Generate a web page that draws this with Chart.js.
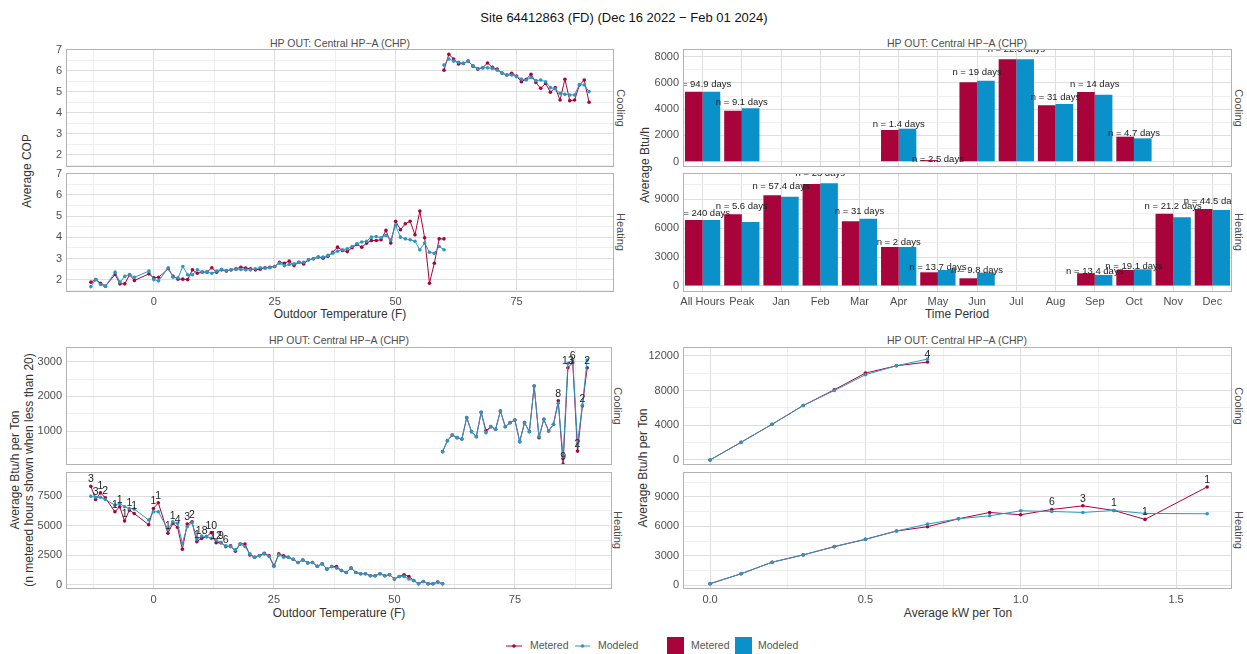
<!DOCTYPE html>
<html>
<head>
<meta charset="utf-8">
<title>Site 64412863</title>
<script src="https://cdn.jsdelivr.net/npm/chart.js@4.4.0/dist/chart.umd.min.js"></script>
<style>
  body { margin: 0; background: #fff; font-family: "Liberation Sans", Arial, sans-serif; }
  #page { position: relative; width: 1247px; height: 654px; overflow: hidden; background: #fff; }
  #page canvas { position: absolute; }
  .t { position: absolute; white-space: nowrap; transform: translate(-50%, -50%); line-height: 1; }
  .title { font-size: 13px; color: #111; }
  .ptitle { font-size: 10.5px; color: #4d4d4d; }
  .strip { font-size: 11px; color: #4d4d4d; transform: translate(-50%, -50%) rotate(90deg); }
  .axt { font-size: 12px; color: #333; }
  .axt.v { transform: translate(-50%, -50%) rotate(-90deg); }
  .leg { position: absolute; font-size: 10.5px; color: #555; top: 639px; white-space: nowrap; }
</style>
</head>
<body>
<div id="page">
  <div class="t title" style="left:624px; top:17px">Site 64412863 (FD) (Dec 16 2022 − Feb 01 2024)</div>

  <div class="t ptitle" style="left:340px; top:43px">HP OUT: Central HP−A (CHP)</div>
  <div class="t ptitle" style="left:957px; top:43px">HP OUT: Central HP−A (CHP)</div>
  <div class="t ptitle" style="left:339px; top:340px">HP OUT: Central HP−A (CHP)</div>
  <div class="t ptitle" style="left:957px; top:340px">HP OUT: Central HP−A (CHP)</div>

  <div class="t strip" style="left:620px; top:108px">Cooling</div>
  <div class="t strip" style="left:620px; top:232px">Heating</div>
  <div class="t strip" style="left:1238px; top:108px">Cooling</div>
  <div class="t strip" style="left:1238px; top:232px">Heating</div>
  <div class="t strip" style="left:617px; top:406px">Cooling</div>
  <div class="t strip" style="left:617px; top:530px">Heating</div>
  <div class="t strip" style="left:1238px; top:406px">Cooling</div>
  <div class="t strip" style="left:1238px; top:530px">Heating</div>

  <div class="t axt v" style="left:27px; top:171px">Average COP</div>
  <div class="t axt" style="left:340px; top:314px">Outdoor Temperature (F)</div>
  <div class="t axt v" style="left:645px; top:165px">Average Btu/h</div>
  <div class="t axt" style="left:957px; top:314px">Time Period</div>
  <div class="t axt v" style="left:15px; top:470px">Average Btu/h per Ton</div>
  <div class="t axt v" style="left:29px; top:470px">(n metered hours shown when less than 20)</div>
  <div class="t axt" style="left:339px; top:613px">Outdoor Temperature (F)</div>
  <div class="t axt v" style="left:643px; top:468px">Average Btu/h per Ton</div>
  <div class="t axt" style="left:958px; top:613px">Average kW per Ton</div>

  <svg style="position:absolute; left:505px; top:640px" width="20" height="12">
    <line x1="1" y1="6" x2="17" y2="6" stroke="#a9033c" stroke-width="1"/><circle cx="9" cy="6" r="1.8" fill="#a9033c"/>
  </svg>
  <div class="leg" style="left:530px">Metered</div>
  <svg style="position:absolute; left:574px; top:640px" width="20" height="12">
    <line x1="1" y1="6" x2="16" y2="6" stroke="#2b97c2" stroke-width="1"/><circle cx="8.5" cy="6" r="1.8" fill="#2b97c2"/>
  </svg>
  <div class="leg" style="left:598px">Modeled</div>
  <div style="position:absolute; left:667px; top:637px; width:17px; height:17px; background:#a9033c"></div>
  <div class="leg" style="left:691px">Metered</div>
  <div style="position:absolute; left:735px; top:637px; width:17px; height:17px; background:#0b91c9"></div>
  <div class="leg" style="left:758px">Modeled</div>
</div>

<script>
// ---- data ----
const tempCool = [60,61,62,63,64,65,66,67,68,69,70,71,72,73,74,75,76,77,78,79,80,81,82,83,84,85,86,87,88,89,90];
const copCoolMetered = [6.03,6.78,6.56,6.32,6.35,6.46,6.22,6.08,6.14,6.37,6.16,6.08,5.89,5.80,5.88,5.75,5.48,5.60,5.83,5.44,5.17,5.40,4.98,5.20,4.61,5.60,4.58,4.61,5.32,5.56,4.50];
const copCoolModeled = [6.27,6.56,6.46,6.40,6.35,6.46,6.24,6.11,6.14,6.14,6.11,6.03,5.88,5.80,5.80,5.72,5.61,5.56,5.68,5.53,5.56,5.48,5.20,5.14,4.93,4.88,4.85,4.85,5.35,5.32,5.01];

const tempHeat = [-13,-12,-11,-10,-8,-7,-6,-5,-4,-1,0,1,3,4,5,6,7,8,9,10,11,12,13,14,15,16,17,18,19,20,21,22,23,24,25,26,27,28,29,30,31,32,33,34,35,36,37,38,39,40,41,42,43,44,45,46,47,48,49,50,51,52,53,54,55,56,57,58,59,60];
const copHeatMetered = [1.89,2.01,1.84,1.70,2.25,1.81,1.81,2.24,1.97,2.28,2.09,2.12,
  2.52,2.16,2.03,2.03,2.01,2.47,2.31,2.36,2.36,2.57,2.36,2.47,2.41,2.47,2.52,2.59,2.55,
  2.52,2.47,2.50,2.57,2.59,2.63,2.83,2.78,2.88,2.67,
  2.83,2.75,2.94,2.99,3.07,3.02,3.11,3.30,3.54,3.38,
  3.33,3.51,3.67,3.54,3.73,3.85,3.85,3.89,4.33,3.73,
  4.76,4.36,4.64,4.76,4.12,5.24,3.98,1.84,2.78,3.93,3.93];
const copHeatModeled = [1.68,2.01,1.78,1.70,2.36,1.89,2.16,2.25,2.12,2.41,2.01,1.95,
  2.57,2.12,2.09,2.63,2.24,2.24,2.47,2.36,2.36,2.31,2.41,2.49,2.44,2.47,2.49,2.49,2.47,
  2.47,2.52,2.57,2.55,2.57,2.63,2.78,2.67,2.72,2.75,
  2.83,2.83,2.94,2.99,3.07,3.07,3.15,3.25,3.35,3.42,
  3.46,3.57,3.70,3.78,3.82,4.01,4.04,3.98,4.09,3.89,
  4.56,4.01,3.93,3.89,3.82,3.42,3.73,3.30,3.25,3.57,3.42];

const periods = ['All Hours','Peak','Jan','Feb','Mar','Apr','May','Jun','Jul','Aug','Sep','Oct','Nov','Dec'];
const coolBarMetered = [5333,3886,null,null,null,2415,120,6048,7800,4297,5310,1905,null,null];
const coolBarModeled = [5333,4064,null,null,null,2515,-40,6175,7800,4396,5105,1778,null,null];
const coolDays = [94.9,9.1,null,null,null,1.4,2.5,19,22.3,31,14,4.7,null,null];
const heatBarMetered = [6851,7442,9415,10588,6716,4048,1422,799,null,null,1318,1660,7505,7993];
const heatBarModeled = [6851,6643,9270,10660,6986,4048,1660,1384,null,null,1142,1730,7131,7889];
const heatDays = [240,5.6,57.4,28,31,2,13.7,9.8,null,null,13.4,19.1,21.2,44.5];

const btuCoolMetered = [404,721,886,808,770,1385,981,837,1540,1010,1125,1050,1578,1125,1241,1318,693,1241,981,2299,808,1337,1001,1194,1870,40,2827,2972,420,1722,2827];
const btuCoolModeled = [404,721,886,808,770,1385,981,837,1540,952,1125,1050,1578,1125,1241,1318,693,1241,981,2299,837,1337,1001,1194,1800,260,2950,3049,626,1751,3049];
const btuCoolNTemp = [84,85,86,87,88,89,90];
const btuCoolN = [8,9,13,6,2,2,2];

const btuHeatMetered = [8343,7219,7781,7359,6180,6601,5393,6320,6039,5084,6461,6938,
  4354,5197,4860,3006,5140,5337,3649,3930,4073,4410,3565,3565,3228,3287,2837,3455,3455,
  2528,2332,2472,2669,2444,1601,2612,2444,2332,2163,1883,
  2100,1850,1883,1560,1770,1323,1546,1546,1207,1037,1407,1037,927,927,759,759,927,759,843,480,703,843,703,363,84,278,84,84,222,84];
const btuHeatModeled = [7500,7406,7406,7219,6742,6882,6601,6461,6405,5478,6180,6180,
  4691,5337,5197,3514,4916,5253,3851,4129,4073,3930,3792,3565,3287,3228,2950,3455,3228,
  2612,2332,2444,2612,2388,1546,2528,2332,2332,2163,1883,
  2100,1850,1883,1560,1770,1323,1546,1407,1207,1037,1407,1037,927,927,759,759,927,759,843,480,703,703,480,363,84,278,84,84,222,84];
const btuHeatNTemp = [-13,-12,-11,-10,-8,-7,-6,-5,-4,0,1,3,4,5,7,8,9,10,12,13,14,15];
const btuHeatN = [3,3,1,2,1,1,1,1,1,1,1,1,1,4,3,2,1,18,10,12,9,6];

const kwCool = [0,0.1,0.2,0.3,0.4,0.5,0.6,0.7];
const kwCoolMetered = [0,2038,4115,6269,8077,10000,10846,11269];
const kwCoolModeled = [0,2038,4115,6269,8000,9808,10846,11615];
const kwCoolNX = [0.7];
const kwCoolN = [4];
const kwHeat = [0,0.1,0.2,0.3,0.4,0.5,0.6,0.7,0.8,0.9,1.0,1.1,1.2,1.3,1.4,1.6];
const kwHeatMetered = [172,1183,2361,3100,3944,4685,5528,5967,6775,7416,7180,7719,8090,7618,6708,10011];
const kwHeatModeled = [172,1183,2361,3100,3944,4685,5528,6236,6775,7079,7584,7517,7416,7618,7315,7282];
const kwHeatNX = [1.1,1.2,1.3,1.4,1.6];
const kwHeatN = [6,3,1,1,1];

// ---- styling ----
const FONT = '"Liberation Sans", Arial, sans-serif';
const RED = '#a9033c';
const BLUE_LINE = '#2b97c2';
const BLUE_BAR = '#0b91c9';
const GRID_MAJOR = '#dedede';
const GRID_MINOR = '#efefef';
const TICK_COLOR = '#4d4d4d';

// panel outline like ggplot's panel.border
const frame = {
  id: 'frame',
  afterDraw(chart) {
    const a = chart.chartArea, ctx = chart.ctx;
    ctx.save();
    ctx.strokeStyle = '#b3b3b3';
    ctx.lineWidth = 1;
    ctx.strokeRect(Math.round(a.left) + 0.5, Math.round(a.top) + 0.5,
      Math.round(a.right - a.left) - 1, Math.round(a.bottom - a.top) - 1);
    ctx.restore();
  }
};

// text labels drawn inside the panel (clipped like ggplot)
function textLabels(items, size) {
  return {
    id: 'nlabels',
    afterDatasetsDraw(chart) {
      const a = chart.chartArea, ctx = chart.ctx;
      ctx.save();
      ctx.beginPath();
      ctx.rect(a.left, a.top, a.right - a.left, a.bottom - a.top);
      ctx.clip();
      ctx.fillStyle = '#222';
      ctx.font = size + 'px ' + FONT;
      ctx.textAlign = 'center';
      ctx.textBaseline = 'middle';
      items(chart).forEach(it => ctx.fillText(it.text, it.x, it.y));
      ctx.restore();
    }
  };
}

function pointLabels(xs, ys, labelX, labelN) {
  return textLabels(chart => labelX.map((t, k) => {
    const i = xs.indexOf(t);
    return {
      text: String(labelN[k]),
      x: chart.scales.x.getPixelForValue(xs[i]),
      y: chart.scales.y.getPixelForValue(ys[i]) - 7
    };
  }), 10.5);
}

// "n = .. days" sits a little above the taller bar of each period
function barLabels(metered, modeled, days) {
  return textLabels(chart => {
    const out = [];
    days.forEach((d, i) => {
      if (d == null) return;
      const top = Math.max(metered[i] ?? 0, modeled[i] ?? 0);
      out.push({
        text: 'n = ' + d + ' days',
        x: chart.scales.x.getPixelForValue(i),
        y: chart.scales.y.getPixelForValue(top * 1.09) - 1
      });
    });
    return out;
  }, 9.5);
}

function linScale(min, max, majors, minors, fmt, show, pad) {
  const all = majors.concat(minors).filter(v => v >= min && v <= max).sort((a, b) => a - b);
  return {
    type: 'linear', min: min, max: max,
    afterBuildTicks: s => { s.ticks = all.map(v => ({ value: v })); },
    ticks: {
      display: show, autoSkip: false, maxRotation: 0, padding: pad || 4,
      color: TICK_COLOR, font: { size: 11, family: FONT },
      callback: v => majors.includes(v) ? fmt(v) : ''
    },
    grid: {
      drawTicks: false, lineWidth: 1,
      color: c => (c.tick && majors.includes(c.tick.value)) ? GRID_MAJOR : GRID_MINOR
    },
    border: { display: false }
  };
}

function lineSet(label, xs, ys, color, order) {
  return {
    label: label,
    data: xs.map((x, i) => ({ x: x, y: ys[i] })),
    borderColor: color, backgroundColor: color,
    pointBackgroundColor: color, pointBorderWidth: 0, pointRadius: 1.8,
    borderWidth: 1, showLine: true, order: order
  };
}

// one facet panel = one canvas whose chart area is pinned to the given box
function panel(box, type, data, xScale, yScale, extra) {
  const yw = 44, pt = 10, pr = 4;
  const xh = box.xh;
  const pb = xh ? 0 : 8;
  const W = box.R - box.L + yw + pr;
  const H = box.B - box.T + pt + xh + pb;
  const cv = document.createElement('canvas');
  cv.width = W;
  cv.height = H;
  cv.style.left = (box.L - yw) + 'px';
  cv.style.top = (box.T - pt) + 'px';
  cv.style.width = W + 'px';
  cv.style.height = H + 'px';
  document.getElementById('page').appendChild(cv);
  xScale.afterFit = s => { s.height = xh; s.paddingLeft = 0; s.paddingRight = 0; };
  yScale.afterFit = s => { s.width = yw; s.paddingTop = 0; s.paddingBottom = 0; };
  return new Chart(cv, {
    type: type,
    data: data,
    options: {
      responsive: false, animation: false, devicePixelRatio: 1,
      layout: { padding: { top: pt, right: pr, bottom: pb, left: 0 } },
      plugins: { legend: { display: false }, tooltip: { enabled: false } },
      scales: { x: xScale, y: yScale }
    },
    plugins: [frame].concat(extra || [])
  });
}

const num = v => String(v);

// ---- top left: COP vs outdoor temperature ----
const tempMajors = [0, 25, 50, 75];
const tempMinors = [-12.5, 12.5, 37.5, 62.5, 87.5];
const copMajors = [2, 3, 4, 5, 6, 7];
const copMinors = [1.5, 2.5, 3.5, 4.5, 5.5, 6.5];

panel({ L: 66, T: 49, R: 614, B: 167, xh: 0 }, 'scatter',
  { datasets: [lineSet('Metered', tempCool, copCoolMetered, RED, 2), lineSet('Modeled', tempCool, copCoolModeled, BLUE_LINE, 1)] },
  linScale(-18.15, 95.15, tempMajors, tempMinors, num, false),
  linScale(1.425, 7.035, copMajors, copMinors, num, true));

panel({ L: 66, T: 173, R: 614, B: 292, xh: 24 }, 'scatter',
  { datasets: [lineSet('Metered', tempHeat, copHeatMetered, RED, 2), lineSet('Modeled', tempHeat, copHeatModeled, BLUE_LINE, 1)] },
  linScale(-18.15, 95.15, tempMajors, tempMinors, num, true, 3),
  linScale(1.425, 7.035, copMajors, copMinors, num, true));

// ---- top right: Btu/h by time period ----
function catScale(show) {
  return {
    type: 'category', offset: true,
    grid: { offset: false, drawTicks: false, color: GRID_MAJOR, lineWidth: 1 },
    border: { display: false },
    ticks: { display: show, autoSkip: false, maxRotation: 0, padding: 3, color: TICK_COLOR, font: { size: 11, family: FONT } }
  };
}
function barSets(metered, modeled) {
  return [
    { label: 'Metered', data: metered, backgroundColor: RED, borderWidth: 0, categoryPercentage: 0.9, barPercentage: 1.0 },
    { label: 'Modeled', data: modeled, backgroundColor: BLUE_BAR, borderWidth: 0, categoryPercentage: 0.9, barPercentage: 1.0 }
  ];
}

panel({ L: 683, T: 49, R: 1232, B: 167, xh: 0 }, 'bar',
  { labels: periods, datasets: barSets(coolBarMetered, coolBarModeled) },
  catScale(false),
  linScale(-404, 8587, [0, 2000, 4000, 6000, 8000], [1000, 3000, 5000, 7000], num, true),
  [barLabels(coolBarMetered, coolBarModeled, coolDays)]);

panel({ L: 683, T: 173, R: 1232, B: 292, xh: 24 }, 'bar',
  { labels: periods, datasets: barSets(heatBarMetered, heatBarModeled) },
  catScale(true),
  linScale(-623, 11730, [0, 3000, 6000, 9000], [1500, 4500, 7500, 10500], num, true),
  [barLabels(heatBarMetered, heatBarModeled, heatDays)]);

// ---- bottom left: Btu/h per ton vs outdoor temperature ----
panel({ L: 66, T: 347, R: 612, B: 465, xh: 0 }, 'scatter',
  { datasets: [lineSet('Metered', tempCool, btuCoolMetered, RED, 2), lineSet('Modeled', tempCool, btuCoolModeled, BLUE_LINE, 1)] },
  linScale(-18.15, 95.15, tempMajors, tempMinors, num, false),
  linScale(19, 3424, [1000, 2000, 3000], [500, 1500, 2500], num, true),
  [pointLabels(tempCool, btuCoolMetered, btuCoolNTemp, btuCoolN)]);

panel({ L: 66, T: 472, R: 612, B: 589, xh: 24 }, 'scatter',
  { datasets: [lineSet('Metered', tempHeat, btuHeatMetered, RED, 2), lineSet('Modeled', tempHeat, btuHeatModeled, BLUE_LINE, 1)] },
  linScale(-18.15, 95.15, tempMajors, tempMinors, num, true, 4),
  linScale(-362, 9548, [0, 2500, 5000, 7500], [1250, 3750, 6250, 8750], num, true),
  [pointLabels(tempHeat, btuHeatMetered, btuHeatNTemp, btuHeatN)]);

// ---- bottom right: Btu/h per ton vs kW per ton ----
const kwMajors = [0, 0.5, 1, 1.5];
const kwMinors = [0.25, 0.75, 1.25];
const kwFmt = v => v.toFixed(1);

panel({ L: 683, T: 347, R: 1232, B: 465, xh: 0 }, 'scatter',
  { datasets: [lineSet('Metered', kwCool, kwCoolMetered, RED, 2), lineSet('Modeled', kwCool, kwCoolModeled, BLUE_LINE, 1)] },
  linScale(-0.087, 1.68, kwMajors, kwMinors, kwFmt, false),
  linScale(-577, 13004, [0, 4000, 8000, 12000], [2000, 6000, 10000], num, true),
  [pointLabels(kwCool, kwCoolMetered, kwCoolNX, kwCoolN)]);

panel({ L: 683, T: 472, R: 1232, B: 589, xh: 24 }, 'scatter',
  { datasets: [lineSet('Metered', kwHeat, kwHeatMetered, RED, 2), lineSet('Modeled', kwHeat, kwHeatModeled, BLUE_LINE, 1)] },
  linScale(-0.087, 1.68, kwMajors, kwMinors, kwFmt, true, 4),
  linScale(-364, 11528, [0, 3000, 6000, 9000], [1500, 4500, 7500, 10500], num, true),
  [pointLabels(kwHeat, kwHeatMetered, kwHeatNX, kwHeatN)]);
</script>
</body>
</html>
